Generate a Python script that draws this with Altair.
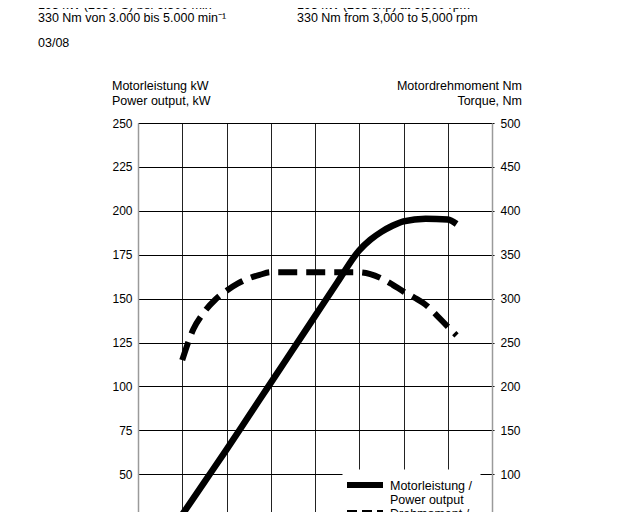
import altair as alt
import pandas as pd

# ---- data ----
rpm_power = [1000, 1500, 2000, 2500, 3000, 3500, 4000, 4500, 5000, 5250, 5500, 5750, 6000, 6500, 7000, 7200]
power_kw = [27, 45.5, 64, 83, 102, 121, 140, 159, 177.5, 183.5, 188, 191.5, 194, 195.5, 195, 192.5]

rpm_torque = [1000, 1250, 1500, 1750, 2000, 2250, 2500, 2750, 3000, 5000, 5250, 5500, 5750, 6000, 6250, 6500, 6750, 7000, 7200]
torque_nm = [230, 265, 285, 299, 309, 317, 323, 327, 330, 330, 328, 323, 316, 308, 301, 293, 281, 268, 258]

rpm_grid = [1000, 2000, 3000, 4000, 5000, 6000, 7000]
kw_ticks = [0, 25, 50, 75, 100, 125, 150, 175, 200, 225, 250]
nm_ticks = [0, 50, 100, 150, 200, 250, 300, 350, 400, 450, 500]

header_de = ["195 kW (265 PS) bei 6.500 min⁻¹", "330 Nm von 3.000 bis 5.000 min⁻¹"]
header_en = ["195 kW (265 bhp) at 6,500 rpm", "330 Nm from 3,000 to 5,000 rpm"]
date_label = "03/08"
left_title = ["Motorleistung kW", "Power output, kW"]
right_title = ["Motordrehmoment Nm", "Torque, Nm"]
legend_power = ["Motorleistung /", "Power output"]
legend_torque = ["Drehmoment /", "Torque"]

FONT = "Liberation Sans"

power_df = pd.DataFrame({"rpm": rpm_power, "kw": power_kw})
torque_df = pd.DataFrame({"rpm": rpm_torque, "nm": torque_nm})
one = pd.DataFrame({"k": [0]})

x_scale = alt.Scale(domain=[0, 8000], nice=False)
x_axis = alt.Axis(values=rpm_grid, grid=True, gridColor="#222222", gridWidth=1,
                  labels=False, ticks=False, domain=False, title=None)

power = alt.Chart(power_df).mark_line(
    color="black", strokeWidth=6.5, interpolate="monotone", strokeCap="butt"
).encode(
    x=alt.X("rpm:Q", scale=x_scale, axis=x_axis),
    y=alt.Y("kw:Q", scale=alt.Scale(domain=[0, 250], nice=False),
            axis=alt.Axis(orient="left", values=kw_ticks, grid=True, gridColor="black",
                          gridWidth=1, domainColor="#9a9a9a", domainWidth=1.5, ticks=False,
                          labelPadding=6, labelFontSize=12, labelColor="black",
                          labelFont=FONT, title=None)),
)

torque = alt.Chart(torque_df).mark_line(
    color="black", strokeWidth=6, interpolate="monotone", strokeDash=[19, 9], strokeCap="butt"
).encode(
    x=alt.X("rpm:Q", scale=x_scale, axis=x_axis),
    y=alt.Y("nm:Q", scale=alt.Scale(domain=[0, 500], nice=False),
            axis=alt.Axis(orient="right", values=nm_ticks, grid=False, domainColor="#9a9a9a",
                          domainWidth=1.5, ticks=True, tickSize=2, tickColor="black",
                          labelPadding=6, labelFontSize=12, labelColor="black",
                          labelFont=FONT, title=None)),
)


def label(txt, x, y, align="left", size=12.5):
    return alt.Chart(one).mark_text(
        text=txt, align=align, baseline="alphabetic", fontSize=size, font=FONT, color="black"
    ).encode(x=alt.value(x), y=alt.value(y))


legend_box = alt.Chart(one).mark_rect(fill="white", stroke="white").encode(
    x=alt.value(205), x2=alt.value(342), y=alt.value(347), y2=alt.value(470)
)
legend_power_line = alt.Chart(one).mark_rule(color="black", strokeWidth=6).encode(
    x=alt.value(209), x2=alt.value(245), y=alt.value(362)
)
legend_torque_line = alt.Chart(one).mark_rule(color="black", strokeWidth=6, strokeDash=[10, 5]).encode(
    x=alt.value(209), x2=alt.value(245), y=alt.value(390)
)

texts = [
    label(header_de[0], -100, -114),
    label(header_de[1], -100, -101.5),
    label(header_en[0], 159, -114),
    label(header_en[1], 159, -101.5),
    label(date_label, -100, -76.5),
    label(left_title[0], -26, -33),
    label(left_title[1], -26, -18.5),
    label(right_title[0], 384, -33, align="right"),
    label(right_title[1], 384, -18.5, align="right"),
    label(legend_power[0], 252, 366.5),
    label(legend_power[1], 252, 381),
    label(legend_torque[0], 252, 395),
    label(legend_torque[1], 252, 410),
]

chart = alt.layer(
    power, torque, legend_box, legend_power_line, legend_torque_line, *texts
).resolve_scale(y="independent").properties(
    width=354, height=439,
    autosize=alt.AutoSizeParams(type="none"),
    padding={"left": 130, "top": 115, "right": 140, "bottom": 10},
).configure_view(stroke="transparent").configure(font=FONT)

chart.save("out.html", embed_options={"renderer": "svg", "actions": False})
